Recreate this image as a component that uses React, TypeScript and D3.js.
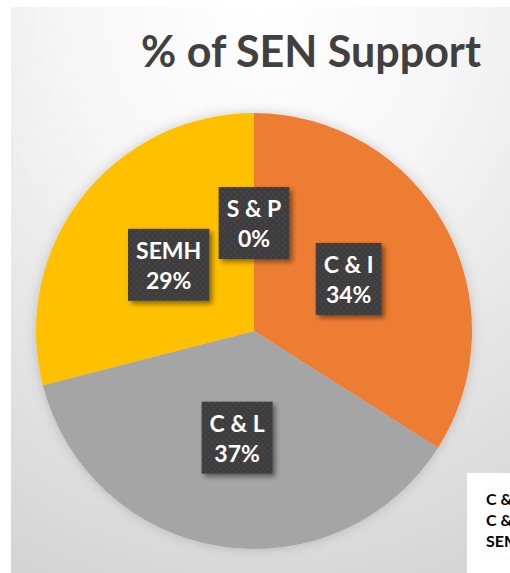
import { useEffect, useRef } from "react";
import * as d3 from "d3";

// slice data, clockwise from 12 o'clock
const categories = ["C & I", "C & L", "SEMH", "S & P"];
const values = [34, 37, 29, 0];
const colors = ["#ED7D31", "#A5A5A5", "#FFC000", "#5B9BD5"];
const legendItems = ["C & I", "C & L", "SEMH"];

const title = "% of SEN Support";

export default function App() {
  const svgRef = useRef<SVGSVGElement | null>(null);

  useEffect(() => {
    if (!svgRef.current) return;
    const width = 510;
    const height = 573;
    const cx = 254;
    const cy = 331;
    const radius = 218;
    const labelRadius = 108;

    const svg = d3.select(svgRef.current);
    svg.selectAll("*").remove();

    const defs = svg.append("defs");
    const bg = defs
      .append("radialGradient")
      .attr("id", "bg")
      .attr("cx", "50%")
      .attr("cy", "0%")
      .attr("r", "110%");
    bg.append("stop").attr("offset", "0%").attr("stop-color", "#ffffff");
    bg.append("stop").attr("offset", "35%").attr("stop-color", "#f6f6f6");
    bg.append("stop").attr("offset", "100%").attr("stop-color", "#d4d4d4");

    const glow = defs.append("filter").attr("id", "glow").attr("x", "-20%").attr("y", "-20%").attr("width", "140%").attr("height", "140%");
    glow.append("feDropShadow").attr("dx", 0).attr("dy", 0).attr("stdDeviation", 6).attr("flood-color", "#000").attr("flood-opacity", 0.18);

    const shadow = defs.append("filter").attr("id", "shadow").attr("x", "-20%").attr("y", "-20%").attr("width", "150%").attr("height", "150%");
    shadow.append("feDropShadow").attr("dx", 3).attr("dy", 3).attr("stdDeviation", 2.5).attr("flood-color", "#000").attr("flood-opacity", 0.45);

    const pat = defs
      .append("pattern")
      .attr("id", "dots")
      .attr("width", 6)
      .attr("height", 6)
      .attr("patternUnits", "userSpaceOnUse");
    pat.append("rect").attr("width", 6).attr("height", 6).attr("fill", "#3d3d3d");
    pat.append("circle").attr("cx", 1.5).attr("cy", 1.5).attr("r", 0.9).attr("fill", "#4e4e4e");
    pat.append("circle").attr("cx", 4.5).attr("cy", 4.5).attr("r", 0.9).attr("fill", "#4e4e4e");

    svg.append("rect").attr("x", 11).attr("y", 7).attr("width", width - 11).attr("height", height - 7).attr("fill", "url(#bg)");

    svg
      .append("text")
      .attr("x", 311)
      .attr("y", 67)
      .attr("text-anchor", "middle")
      .attr("font-family", "Lato, 'Open Sans', sans-serif")
      .attr("font-weight", 700)
      .attr("font-size", 43)
      .attr("fill", "#404040")
      .text(title);

    const pie = d3
      .pie<number>()
      .sort(null)
      .value((d) => d);
    const arcs = pie(values);
    const arc = d3.arc<d3.PieArcDatum<number>>().innerRadius(0).outerRadius(radius);
    const labelArc = d3.arc<d3.PieArcDatum<number>>().innerRadius(labelRadius).outerRadius(labelRadius);

    const g = svg.append("g").attr("transform", `translate(${cx},${cy})`);
    g.append("g")
      .attr("filter", "url(#glow)")
      .selectAll("path")
      .data(arcs)
      .join("path")
      .attr("d", arc)
      .attr("fill", (_, i) => colors[i]);

    // data labels
    const labels = g
      .selectAll("g.lbl")
      .data(arcs)
      .join("g")
      .attr("class", "lbl")
      .attr("transform", (d) => {
        const [x, y] = labelArc.centroid(d);
        return `translate(${x},${y})`;
      });

    labels.each(function (d, i) {
      const sel = d3.select(this);
      const rect = sel.append("rect").attr("fill", "url(#dots)").attr("filter", "url(#shadow)");
      const t1 = sel
        .append("text")
        .attr("text-anchor", "middle")
        .attr("y", -6)
        .attr("font-family", "Lato, 'Open Sans', sans-serif")
        .attr("font-weight", 700)
        .attr("font-size", 23)
        .attr("fill", "#ffffff")
        .text(categories[i]);
      const t2 = sel
        .append("text")
        .attr("text-anchor", "middle")
        .attr("y", 24)
        .attr("font-family", "Lato, 'Open Sans', sans-serif")
        .attr("font-weight", 700)
        .attr("font-size", 23)
        .attr("fill", "#ffffff")
        .text(`${Math.round(d.data)}%`);
      const w = Math.max((t1.node() as SVGTextElement).getComputedTextLength(), (t2.node() as SVGTextElement).getComputedTextLength()) + 16;
      rect.attr("x", -w / 2).attr("y", -36).attr("width", w).attr("height", 72);
    });

    // legend (clipped at the edge of the frame, as in the original)
    svg.append("rect").attr("x", 467).attr("y", 473).attr("width", 60).attr("height", 120).attr("fill", "#ffffff");
    svg
      .append("g")
      .selectAll("text")
      .data(legendItems)
      .join("text")
      .attr("x", 486)
      .attr("y", (_, i) => 505 + i * 21)
      .attr("font-family", "Lato, 'Open Sans', sans-serif")
      .attr("font-weight", 700)
      .attr("font-size", 16)
      .attr("fill", "#000000")
      .text((d) => d);
  }, []);

  return (
    <div style={{ position: "absolute", left: 0, top: 0, width: 510, height: 573, overflow: "hidden", background: "#fff" }}>
      <svg ref={svgRef} width={510} height={573}></svg>
    </div>
  );
}
